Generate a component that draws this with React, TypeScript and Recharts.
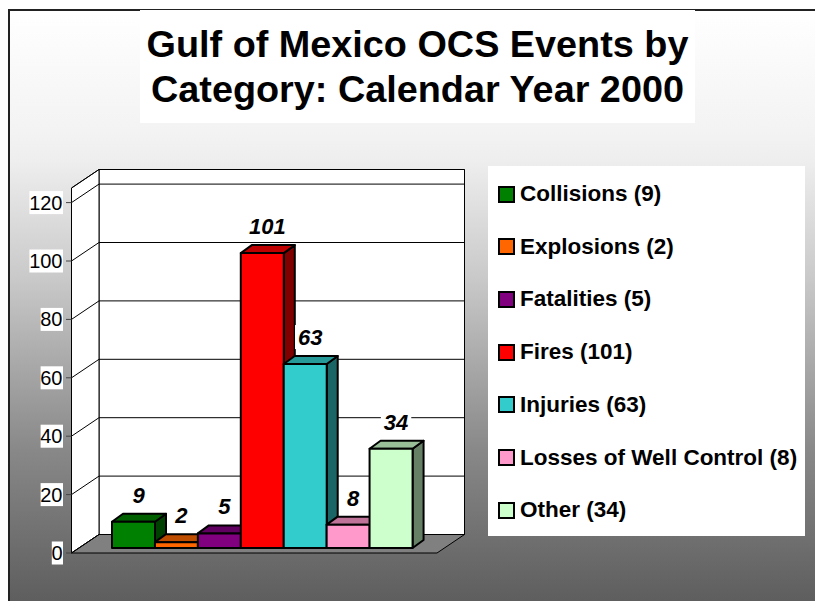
import React from "react";
import { BarChart, Bar, XAxis, YAxis, CartesianGrid, Legend, LabelList, Cell } from "recharts";

const categories = ["Collisions", "Explosions", "Fatalities", "Fires", "Injuries", "Losses of Well Control", "Other"];
const counts = [9, 2, 5, 101, 63, 8, 34];
const colors = ["#008000", "#FF6600", "#800080", "#FF0000", "#33CCCC", "#FF99CC", "#CCFFCC"];
const yTicks = [0, 20, 40, 60, 80, 100, 120];
const titleLines = ["Gulf of Mexico OCS Events by", "Category: Calendar Year 2000"];

const rows = categories.map((name, i) => ({ name, value: counts[i], color: colors[i] }));

const FONT = '"Liberation Sans", Arial, sans-serif';
const W = 815, H = 601;
const LEFT = 71.5, RIGHT = 437, TOP = 188, BOTTOM = 553;
const DX = 27.5, DY = 18.5;      // wall depth
const BAR_DX = 11, BAR_DY = 8;   // bar depth
const SHIFT_X = 8, SHIFT_Y = 5;  // bars stand inside the floor

function shade(hex: string, k: number) {
  const n = parseInt(hex.slice(1), 16);
  const c = [(n >> 16) & 255, (n >> 8) & 255, n & 255].map((v) => Math.round(v * k));
  return `rgb(${c[0]},${c[1]},${c[2]})`;
}

function Bar3D(props: any) {
  const { x, y, width, height, payload } = props;
  const l = x + SHIFT_X, r = l + width, t = y - SHIFT_Y, b = t + height;
  const c = payload.color;
  const s = { stroke: "#000", strokeWidth: 2, strokeLinejoin: "round" as const };
  return (
    <g>
      <polygon points={`${r},${b} ${r + BAR_DX},${b - BAR_DY} ${r + BAR_DX},${t - BAR_DY} ${r},${t}`} fill={shade(c, 0.5)} {...s} />
      <polygon points={`${l},${t} ${l + BAR_DX},${t - BAR_DY} ${r + BAR_DX},${t - BAR_DY} ${r},${t}`} fill={shade(c, 0.75)} {...s} />
      <rect x={l} y={t} width={width} height={height} fill={c} {...s} />
    </g>
  );
}

function BarValue(props: any) {
  const { x, y, width, value } = props;
  const cx = x + width / 2 + SHIFT_X + 5;
  const cy = y - SHIFT_Y - 27;
  const w = String(value).length * 12.2 + 6;
  return (
    <g>
      <rect x={cx - w / 2} y={cy - 12} width={w} height={24} fill="#fff" />
      <text x={cx} y={cy + 8} textAnchor="middle" fontFamily={FONT} fontSize={22} fontWeight="bold" fontStyle="italic" fill="#000">
        {value}
      </text>
    </g>
  );
}

function AxisTick(props: any) {
  const { y, payload } = props;
  const label = String(payload.value);
  const w = label.length * 11.2;
  return (
    <g>
      <rect x={63 - w} y={y - 11.5} width={w} height={23} fill="#fff" />
      <text x={62.5} y={y + 7} textAnchor="end" fontFamily={FONT} fontSize={20} fill="#000">
        {label}
      </text>
      <line x1={66} x2={LEFT} y1={y} y2={y} stroke="#444" strokeWidth={1} />
    </g>
  );
}

function GridLine(props: any) {
  const { y1, index } = props;
  const line = { stroke: "#000", strokeWidth: 1 };
  return (
    <g key={`grid-${index}`}>
      {index === 0 && (
        <g>
          <polygon points={`${LEFT + DX},${BOTTOM - DY} ${RIGHT + DX},${BOTTOM - DY} ${RIGHT + DX},${TOP - DY} ${LEFT + DX},${TOP - DY}`} fill="#fff" {...line} />
          <polygon points={`${LEFT},${BOTTOM} ${LEFT + DX},${BOTTOM - DY} ${LEFT + DX},${TOP - DY} ${LEFT},${TOP}`} fill="#fff" {...line} />
          <polygon points={`${LEFT},${BOTTOM} ${RIGHT},${BOTTOM} ${RIGHT + DX},${BOTTOM - DY} ${LEFT + DX},${BOTTOM - DY}`} fill="#808080" {...line} />
        </g>
      )}
      <line x1={LEFT} y1={y1} x2={LEFT + DX} y2={y1 - DY} {...line} />
      <line x1={LEFT + DX} y1={y1 - DY} x2={RIGHT + DX} y2={y1 - DY} {...line} />
    </g>
  );
}

function LegendBox() {
  return (
    <div style={{ width: 317, height: 370, background: "#fff", position: "relative", fontFamily: FONT }}>
      {rows.map((row, i) => (
        <div key={row.name} style={{ position: "absolute", left: 10, top: 15 + i * 52.7, height: 26, display: "flex", alignItems: "center", whiteSpace: "nowrap" }}>
          <span style={{ width: 13, height: 13, border: "2px solid #000", background: row.color, display: "inline-block", marginRight: 5 }} />
          <span style={{ fontSize: 22.5, fontWeight: "bold", color: "#000", lineHeight: "26px" }}>
            {row.name} ({row.value})
          </span>
        </div>
      ))}
    </div>
  );
}

export default function App() {
  return (
    <div style={{ position: "fixed", left: 0, top: 0, width: W, height: H, background: "#fff", overflow: "hidden" }}>
      <div
        style={{
          position: "absolute", left: 8, top: 9, width: W, height: H, boxSizing: "border-box",
          borderLeft: "2px solid #222", borderTop: "2px solid #222",
          background: "linear-gradient(to bottom, #ffffff 0px, #f3f3f3 120px, #eeeeee 150px, #c8c8c8 270px, #888888 440px, #5e5e5e 590px)",
        }}
      />
      <div style={{ position: "absolute", left: 140, top: 10, width: 555, height: 113, background: "#fff", fontFamily: FONT, fontSize: 37.8, fontWeight: "bold", textAlign: "center", lineHeight: "45px", paddingTop: 12, boxSizing: "border-box", color: "#000" }}>
        {titleLines.map((t) => (
          <div key={t} style={{ whiteSpace: "nowrap" }}>{t}</div>
        ))}
      </div>
      <div style={{ position: "absolute", left: 0, top: 0 }}>
        <BarChart
          width={W}
          height={H}
          data={rows}
          barCategoryGap={0}
          margin={{ top: TOP, bottom: H - BOTTOM, left: LEFT - 60, right: W - RIGHT }}
        >
          <CartesianGrid vertical={false} horizontal={GridLine as any} />
          <XAxis dataKey="name" hide padding={{ left: 32.5, right: 32.5 }} />
          <YAxis width={60} domain={[0, 125]} ticks={yTicks} interval={0} axisLine={false} tickLine={false} tick={AxisTick as any} />
          <Bar dataKey="value" shape={Bar3D as any} isAnimationActive={false}>
            {rows.map((row) => (
              <Cell key={row.name} fill={row.color} />
            ))}
            <LabelList dataKey="value" content={BarValue as any} />
          </Bar>
          <Legend
            layout="vertical"
            align="center"
            verticalAlign="middle"
            content={LegendBox as any}
            wrapperStyle={{ left: 488, top: 166, width: 317, height: 370 }}
          />
        </BarChart>
      </div>
    </div>
  );
}
